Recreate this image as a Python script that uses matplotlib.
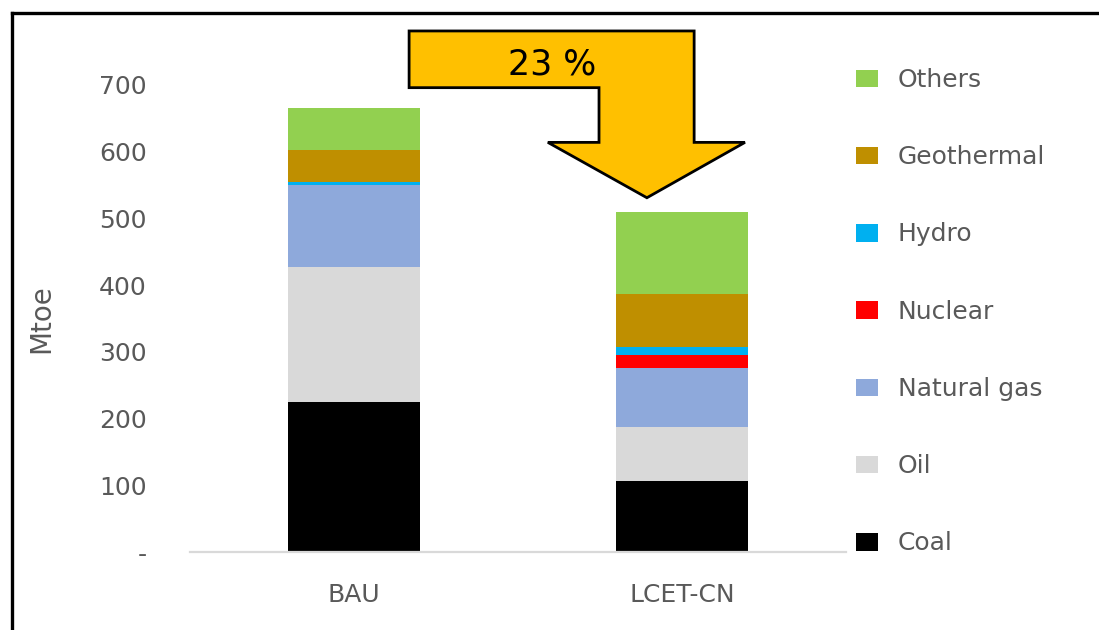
import matplotlib
matplotlib.use("Agg")
import matplotlib.pyplot as plt
from matplotlib.patches import Polygon
from matplotlib.lines import Line2D
import numpy as np

# Primary energy supply by scenario (Mtoe)
scenarios = ["BAU", "LCET-CN"]
sources = ["Coal", "Oil", "Natural gas", "Nuclear", "Hydro", "Geothermal", "Others"]
coal = [225, 106]
oil = [202, 81]
natural_gas = [123, 89]
nuclear = [0, 20]
hydro = [4, 12]
geothermal = [48, 79]
others = [63, 123]
series = [coal, oil, natural_gas, nuclear, hydro, geothermal, others]
colors = ["#000000", "#D9D9D9", "#8EA9DB", "#FF0000", "#00B0F0", "#BF8F00", "#92D050"]

y_ticks = [0, 100, 200, 300, 400, 500, 600, 700]
y_tick_labels = ["-", "100", "200", "300", "400", "500", "600", "700"]
reduction_label = "23 %"

W, H = 1099, 630
fig = plt.figure(figsize=(W / 100, H / 100), dpi=100)
fig.patch.set_facecolor("white")
ax = fig.add_axes([190 / W, (H - 552) / H, 656 / W, 467 / H])

text_color = "#595959"
x = np.arange(len(scenarios))
bottom = np.zeros(len(scenarios))
bars = []
for vals, col, name in zip(series, colors, sources):
    b = ax.bar(x, vals, width=0.4, bottom=bottom, color=col, label=name,
               edgecolor="none", zorder=2)
    bars.append(b)
    bottom += np.array(vals)

ax.set_xlim(-0.5, 1.5)
ax.set_ylim(0, 700)
ax.set_yticks(y_ticks)
ax.set_yticklabels(y_tick_labels)
ax.set_xticks(x)
ax.set_xticklabels(scenarios)
ax.tick_params(axis="y", length=0, pad=31, labelsize=18, labelcolor=text_color)
ax.tick_params(axis="x", length=0, pad=22, labelsize=18, labelcolor=text_color)
for s in ["top", "right", "left"]:
    ax.spines[s].set_visible(False)
ax.spines["bottom"].set_color("#D9D9D9")
ax.spines["bottom"].set_linewidth(1.6)
ax.set_ylabel("Mtoe", fontsize=20, color=text_color)
ax.yaxis.set_label_coords(-0.206, 0.5)

# Reduction arrow from the BAU level down to the LCET-CN total
totals = bottom
tip_y = totals[1] + 21
shaft_y = tip_y + 83
top_y = totals[0] + 116
inner_y = top_y - 85
arrow_pts = [
    (0.168, top_y), (1.037, top_y), (1.037, shaft_y), (1.192, shaft_y),
    (0.893, tip_y), (0.591, shaft_y), (0.747, shaft_y), (0.747, inner_y),
    (0.168, inner_y),
]
arrow = Polygon(arrow_pts, closed=True, facecolor="#FFC000", edgecolor="black",
                linewidth=2, clip_on=False, zorder=3, joinstyle="miter")
ax.add_patch(arrow)
ax.text(0.604, (top_y + inner_y) / 2 - 8, reduction_label, fontsize=25,
        color="black", ha="center", va="center", zorder=4)

# Legend, top entry first
handles = bars[::-1]
labels = sources[::-1]
leg = fig.legend(handles, labels, loc="upper left",
                 bbox_to_anchor=(856 / W, 1 - 68 / H),
                 frameon=False, fontsize=18, labelcolor=text_color,
                 borderpad=0, borderaxespad=0, handlelength=0.88,
                 handleheight=0.7, handletextpad=0.8, labelspacing=2.13)

# Frame lines along the left and top edges
fig.add_artist(Line2D([12 / W, 12 / W], [0, 1 - 13 / H], color="black",
                      linewidth=2.4, transform=fig.transFigure))
fig.add_artist(Line2D([12 / W, 1], [1 - 13 / H, 1 - 13 / H], color="black",
                      linewidth=2.4, transform=fig.transFigure))

fig.savefig("out.png", dpi=100, facecolor="white")
